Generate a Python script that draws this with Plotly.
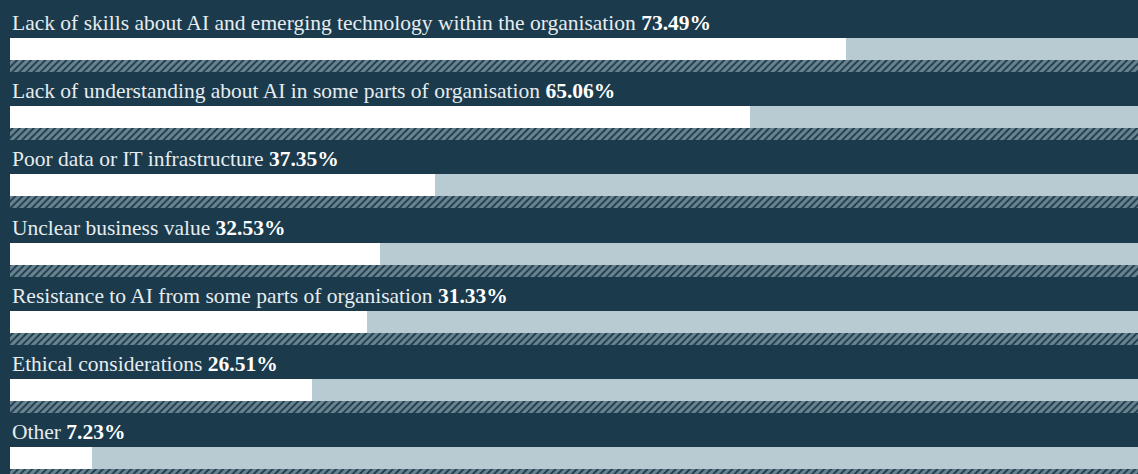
import plotly.graph_objects as go

labels = [
    "Lack of skills about AI and emerging technology within the organisation",
    "Lack of understanding about AI in some parts of organisation",
    "Poor data or IT infrastructure",
    "Unclear business value",
    "Resistance to AI from some parts of organisation",
    "Ethical considerations",
    "Other",
]
values = [73.49, 65.06, 37.35, 32.53, 31.33, 26.51, 7.23]

BG = "#1b3a4c"
WHITE = "#ffffff"
REST = "#b8cbd2"
TEXT = "#e6ecef"

pitch = 68.2
bar_c = [49 + pitch * i for i in range(len(values))]
hatch_c = [c + 17 for c in bar_c]
label_y = [c - 26 for c in bar_c]

fig = go.Figure()
fig.add_trace(go.Bar(
    orientation="h", y=bar_c, x=values, base=[0] * len(values), width=22,
    marker=dict(color=WHITE, line=dict(width=0)), hoverinfo="skip", showlegend=False))
fig.add_trace(go.Bar(
    orientation="h", y=bar_c, x=[100 - v for v in values], base=values, width=22,
    marker=dict(color=REST, line=dict(width=0)), hoverinfo="skip", showlegend=False))
fig.add_trace(go.Bar(
    orientation="h", y=hatch_c, x=[100] * len(values), base=[0] * len(values), width=12,
    marker=dict(color=BG, line=dict(width=0),
                pattern=dict(shape="/", fgcolor=REST, bgcolor=BG, size=5, solidity=0.65)),
    hoverinfo="skip", showlegend=False))

for lab, v, y in zip(labels, values, label_y):
    fig.add_annotation(
        x=0, y=y, xref="x", yref="y", xanchor="left", yanchor="middle",
        text=f"{lab} <b style='color:#ffffff'>{v:.2f}%</b>",
        showarrow=False, font=dict(family="Liberation Serif", size=21.5, color=TEXT))

fig.update_layout(
    width=1138, height=474, autosize=False,
    margin=dict(l=10, r=0, t=0, b=0),
    paper_bgcolor=BG, plot_bgcolor=BG,
    barmode="overlay", bargap=0,
    xaxis=dict(range=[0, 1128 / 11.38], visible=False, fixedrange=True),
    yaxis=dict(range=[474, 0], visible=False, fixedrange=True),
)
fig.write_html("out.html", config={"displayModeBar": False},
               post_script="document.body.style.margin='0';document.body.style.overflow='hidden';")
